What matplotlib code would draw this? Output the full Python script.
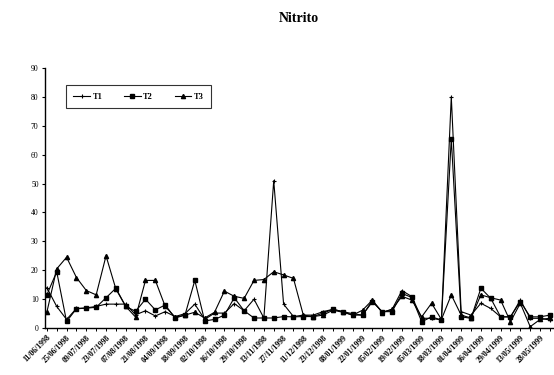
import matplotlib
matplotlib.use("Agg")
import matplotlib.pyplot as plt
import numpy as np

title = "Nitrito"
tick_labels = ["11/06/1998", "25/06/1998", "09/07/1998", "23/07/1998", "07/08/1998",
               "21/08/1998", "04/09/1998", "18/09/1998", "02/10/1998", "16/10/1998",
               "29/10/1998", "13/11/1998", "27/11/1998", "11/12/1998", "23/12/1998",
               "08/01/1999", "22/01/1999", "05/02/1999", "19/02/1999", "05/03/1999",
               "18/03/1999", "01/04/1999", "16/04/1999", "29/04/1999", "13/05/1999",
               "28/05/1999"]

t1 = [14, 7.5, 3.0, 6.8, 7.0, 7.5, 8.3, 8.3, 8.3, 4.6,
      6.0, 4.2, 5.7, 4.0, 5.0, 8.3, 3.0, 5.2, 5.2, 8.5,
      6.0, 10.0, 3.5, 51, 8.3, 4.0, 4.5, 4.5, 5.7, 6.5,
      5.7, 4.5, 4.5, 9.5, 5.5, 6.5, 13, 10.9, 3.4, 3.4,
      2.8, 80, 5.7, 4.5, 8.6, 6.8, 3.9, 3.9, 9.7, 3.4,
      3.4, 2.8]
t2 = [11.5, 19.5, 2.3, 6.7, 6.9, 7.2, 10.5, 13.8, 7.5, 5.8,
      10.0, 6.3, 8.0, 3.5, 4.5, 16.5, 2.5, 3.0, 4.5, 10.5,
      6.0, 3.5, 3.5, 3.5, 4.0, 3.9, 4.0, 4.0, 5.2, 6.5,
      5.7, 5.0, 4.5, 9.1, 5.7, 5.7, 12, 10.6, 2.2, 3.9,
      2.8, 65.5, 3.9, 3.4, 13.8, 10.3, 3.9, 3.9, 9.2, 3.9,
      3.9, 4.5]
t3 = [5.5, 20.5, 24.5, 17.5, 13, 11.5, 25, 13.5, 7.5, 3.8,
      16.5, 16.5, 7.5, 3.8, 4.5, 5.5, 3.5, 5.5, 12.8, 11,
      10.3, 16.5, 16.8, 19.5, 18.4, 17.2, 4.5, 4.0, 4.5, 6.2,
      5.5, 4.5, 6.2, 9.7, 5.4, 6.5, 11, 9.7, 3.9, 8.6,
      3.0, 11.5, 4.5, 3.5, 11.5, 10.5, 9.7, 2.2, 8.6, 0.5,
      3.0, 3.4]
series_names = ["T1", "T2", "T3"]

fig = plt.figure(figsize=(5.54, 3.75), dpi=100)
ax = fig.add_axes([0.081, 0.125, 0.917, 0.694])

x = np.arange(len(t1))
ax.plot(x, t1, color="black", lw=0.8, marker="+", ms=3.5, mew=0.8, label=series_names[0])
ax.plot(x, t2, color="black", lw=0.8, marker="s", ms=2.6, label=series_names[1])
ax.plot(x, t3, color="black", lw=0.8, marker="^", ms=3.0, label=series_names[2])

ax.set_xlim(-0.2, len(t1) - 0.7)
ax.set_ylim(0, 90)
ax.set_yticks(np.arange(0, 91, 10))
ax.tick_params(axis="y", labelsize=5.5, length=2.5, width=0.8, pad=2)
for lab in ax.get_yticklabels():
    lab.set_family("Liberation Serif")

ax.set_xticks(np.arange(0, 2 * len(tick_labels), 2))
ax.set_xticklabels(tick_labels, rotation=45, ha="right", rotation_mode="anchor",
                   fontsize=5.6, family="Liberation Serif", fontweight="bold")
ax.set_xticks(x, minor=True)
ax.tick_params(axis="x", which="both", length=2, width=0.7, pad=2)

for s in ["top", "right"]:
    ax.spines[s].set_visible(False)
for s in ["left", "bottom"]:
    ax.spines[s].set_linewidth(1.0)

leg = ax.legend(loc="upper left", bbox_to_anchor=(0.033, 0.95), ncol=3, frameon=True,
                fancybox=False, edgecolor="black",
                prop={"family": "Liberation Serif", "weight": "bold", "size": 6},
                handlelength=2.0, columnspacing=2.6, borderpad=0.9, handletextpad=0.3)
leg.get_frame().set_linewidth(0.8)

fig.text(0.54, 0.95, title, ha="center", va="center", fontsize=10,
         fontweight="bold", family="Liberation Serif")

fig.savefig("out.png", dpi=100)
